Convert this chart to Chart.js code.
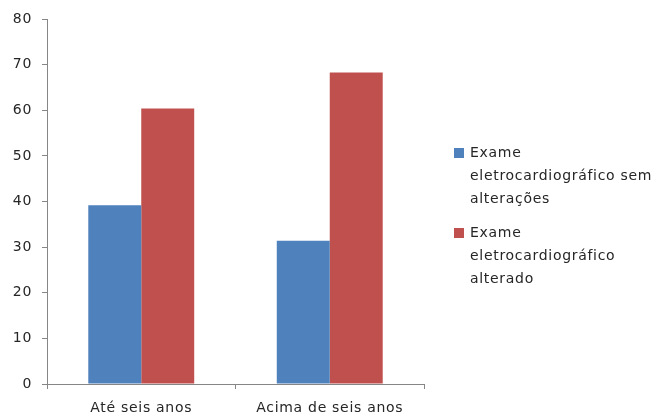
<!DOCTYPE html>
<html>
<head>
<meta charset="utf-8">
<script src="https://cdn.jsdelivr.net/npm/chart.js@4/dist/chart.umd.min.js"></script>
<style>
  html, body { margin: 0; padding: 0; background: #fff; }
  #wrap { width: 654px; height: 416px; position: relative; }
</style>
</head>
<body>
<div id="wrap"><canvas id="c" width="654" height="416"></canvas></div>
<script>
const categories = ["Até seis anos", "Acima de seis anos"];
const seriesNames = [
  ["Exame", "eletrocardiográfico sem", "alterações"],
  ["Exame", "eletrocardiográfico", "alterado"]
];
const semAlteracoes = [39.2, 31.4];
const alterado = [60.4, 68.3];
const yTicks = [0, 10, 20, 30, 40, 50, 60, 70, 80];

const FONT = "'DejaVu Sans', sans-serif";
const FSIZE = 14;
const SPACING = '0.7px';
const TEXT = '#262626';
const colors = ["#4F81BD", "#C0504D"];

const spacingPlugin = {
  id: 'spacing',
  beforeUpdate(chart) { chart.ctx.letterSpacing = SPACING; },
  beforeDraw(chart) { chart.ctx.letterSpacing = SPACING; }
};

const legendPlugin = {
  id: 'sideLegend',
  afterDraw(chart) {
    const ctx = chart.ctx;
    ctx.save();
    ctx.letterSpacing = SPACING;
    ctx.font = `${FSIZE}px ${FONT}`;
    ctx.textBaseline = 'middle';
    ctx.textAlign = 'left';
    const boxX = 454, textX = 470, lineH = 23, itemGap = 11;
    let y = 153;
    chart.data.datasets.forEach((ds, i) => {
      ctx.fillStyle = ds.backgroundColor;
      ctx.fillRect(boxX, y - 5, 10, 10);
      ctx.fillStyle = TEXT;
      seriesNames[i].forEach((line, k) => {
        ctx.fillText(line, textX, y + k * lineH);
      });
      y += seriesNames[i].length * lineH + itemGap;
    });
    ctx.restore();
  }
};

new Chart(document.getElementById('c'), {
  type: 'bar',
  data: {
    labels: categories,
    datasets: [
      { label: seriesNames[0].join(' '), data: semAlteracoes, backgroundColor: colors[0],
        barPercentage: 1, categoryPercentage: 0.562 },
      { label: seriesNames[1].join(' '), data: alterado, backgroundColor: colors[1],
        barPercentage: 1, categoryPercentage: 0.562 }
    ]
  },
  plugins: [spacingPlugin, legendPlugin],
  options: {
    responsive: false,
    animation: false,
    devicePixelRatio: 1,
    layout: { padding: { top: 19, right: 230, left: 0, bottom: 0 } },
    plugins: {
      tooltip: { enabled: false },
      legend: { display: false }
    },
    scales: {
      x: {
        grid: { offset: true, drawOnChartArea: false, drawTicks: true, tickLength: 5, color: '#868686' },
        border: { color: '#868686', width: 1 },
        ticks: { font: { family: FONT, size: FSIZE }, color: TEXT, padding: 11, maxRotation: 0 },
        afterFit: (s) => { s.height = 32; }
      },
      y: {
        min: 0, max: 80,
        afterBuildTicks: (s) => { s.ticks = yTicks.map(v => ({ value: v })); },
        grid: { drawOnChartArea: false, drawTicks: true, tickLength: 5, color: '#868686' },
        border: { color: '#868686', width: 1 },
        ticks: { font: { family: FONT, size: FSIZE }, color: TEXT, padding: 10 },
        afterFit: (s) => { s.width = 47; }
      }
    }
  }
});
</script>
</body>
</html>
